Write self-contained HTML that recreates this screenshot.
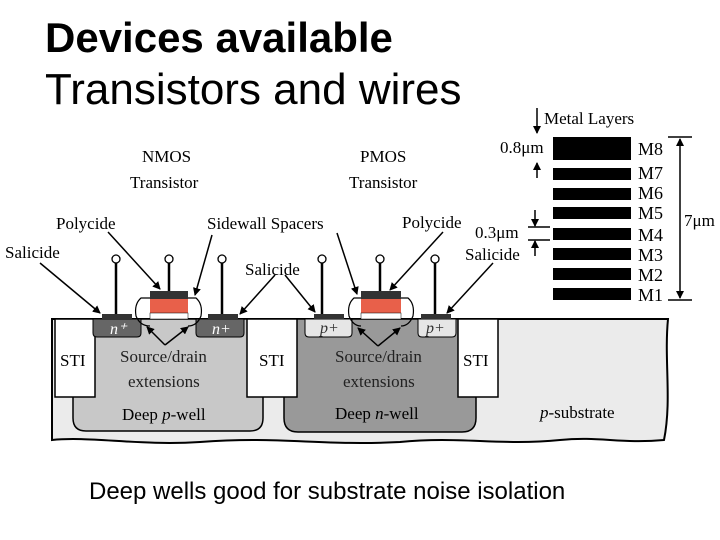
<!DOCTYPE html>
<html><head><style>
body{margin:0;width:720px;height:540px;background:#fff;overflow:hidden;position:relative;font-family:"Liberation Sans",sans-serif}
.t{position:absolute;left:45px;color:#000;line-height:1}
</style></head><body>
<div class="t" style="top:17px;font-size:42px;font-weight:bold">Devices available</div>
<div class="t" style="top:68px;font-size:44px">Transistors and wires</div>
<div style="position:absolute;left:89px;top:478px;font-size:24px">Deep wells good for substrate noise isolation</div>
<svg width="720" height="540" style="position:absolute;left:0;top:0" font-family="Liberation Serif,serif" font-size="17" fill="#000">
<defs><marker id="a" markerWidth="8" markerHeight="8" refX="7" refY="4" orient="auto" markerUnits="userSpaceOnUse"><path d="M0,0L8,4L0,8z" fill="#000"/></marker></defs>
<path d="M52,319 H668 C664,360 672,400 664,440 C620,444 600,436 560,440 C500,446 460,436 400,442 C320,446 280,436 200,442 C140,446 90,436 52,440 Z" fill="#ebebeb" stroke="#000" stroke-width="2"/>
<path d="M73,319 H263 V418 Q263,431 250,431 H86 Q73,431 73,418 Z" fill="#c8c8c8" stroke="#000" stroke-width="1.5"/>
<path d="M284,319 H476 V418 Q476,432 462,432 H298 Q284,432 284,418 Z" fill="#999" stroke="#000" stroke-width="1.5"/>
<rect x="55" y="319" width="40" height="78" fill="#fff" stroke="#000" stroke-width="1.5"/>
<rect x="247" y="319" width="50" height="78" fill="#fff" stroke="#000" stroke-width="1.5"/>
<rect x="458" y="319" width="40" height="78" fill="#fff" stroke="#000" stroke-width="1.5"/>
<path d="M93,319H141V333Q141,337 137,337H97Q93,337 93,333Z" fill="#666" stroke="#000"/>
<path d="M196,319H244V333Q244,337 240,337H200Q196,337 196,333Z" fill="#666" stroke="#000"/>
<path d="M305,319H352V333Q352,337 348,337H309Q305,337 305,333Z" fill="#e6e6e6" stroke="#000"/>
<path d="M418,319H456V333Q456,337 452,337H422Q418,337 418,333Z" fill="#e6e6e6" stroke="#000"/>
<g fill="#333"><rect x="102" y="314" width="30" height="5"/><rect x="208" y="314" width="30" height="5"/><rect x="314" y="314" width="30" height="5"/><rect x="421" y="314" width="30" height="5"/></g>
<g fill="none" stroke="#000" stroke-width="1.2">
<path d="M150,298 H141 Q134,304 136,316 Q140,326 150,326"/><path d="M188,298 H196 Q203,304 201,316 Q197,326 188,326"/>
<path d="M361,298 H354 Q347,304 349,316 Q353,326 361,326"/><path d="M401,298 H408 Q415,304 413,316 Q409,326 401,326"/>
</g>
<rect x="150" y="291" width="38" height="8" fill="#333"/><rect x="150" y="299" width="38" height="14" fill="#e8604a"/><rect x="150" y="313" width="38" height="6" fill="#fff" stroke="#000" stroke-width=".5"/>
<rect x="361" y="291" width="40" height="8" fill="#333"/><rect x="361" y="299" width="40" height="14" fill="#e8604a"/><rect x="361" y="313" width="40" height="6" fill="#fff" stroke="#000" stroke-width=".5"/>
<g stroke="#000" stroke-width="2.5"><line x1="116" y1="263" x2="116" y2="314"/><line x1="169" y1="263" x2="169" y2="291"/><line x1="222" y1="263" x2="222" y2="314"/><line x1="322" y1="263" x2="322" y2="314"/><line x1="380" y1="263" x2="380" y2="291"/><line x1="435" y1="263" x2="435" y2="314"/></g>
<g fill="#fff" stroke="#000" stroke-width="1.3"><circle cx="116" cy="259" r="4"/><circle cx="169" cy="259" r="4"/><circle cx="222" cy="259" r="4"/><circle cx="322" cy="259" r="4"/><circle cx="380" cy="259" r="4"/><circle cx="435" cy="259" r="4"/></g>
<g stroke="#000" stroke-width="1.5" marker-end="url(#a)">
<line x1="40" y1="263" x2="100" y2="313"/><line x1="108" y1="232" x2="160" y2="289"/><line x1="212" y1="235" x2="195" y2="295"/><line x1="337" y1="233" x2="357" y2="294"/>
<line x1="275" y1="275" x2="240" y2="314"/><line x1="285" y1="275" x2="315" y2="312"/><line x1="443" y1="232" x2="390" y2="290"/><line x1="493" y1="263" x2="447" y2="313"/>
<line x1="165" y1="345" x2="147" y2="327"/><line x1="165" y1="345" x2="188" y2="327"/><line x1="378" y1="346" x2="358" y2="328"/><line x1="378" y1="346" x2="400" y2="328"/>
</g>
<text x="142" y="162">NMOS</text><text x="130" y="188">Transistor</text>
<text x="360" y="162">PMOS</text><text x="349" y="188">Transistor</text>
<text x="56" y="229">Polycide</text><text x="207" y="229">Sidewall Spacers</text><text x="402" y="228">Polycide</text>
<text x="5" y="258">Salicide</text><text x="245" y="275">Salicide</text><text x="465" y="260">Salicide</text>
<g font-style="italic" font-size="16" fill="#fff"><text x="110" y="334">n⁺</text><text x="212" y="334">n+</text></g>
<g font-style="italic" font-size="16" fill="#333"><text x="320" y="333">p+</text><text x="426" y="333">p+</text></g>
<text x="60" y="366">STI</text><text x="259" y="366">STI</text><text x="463" y="366">STI</text>
<text x="120" y="362" fill="#222">Source/drain</text><text x="128" y="387" fill="#222">extensions</text><text x="122" y="420">Deep <tspan font-style="italic">p</tspan>-well</text>
<text x="335" y="362" fill="#222">Source/drain</text><text x="343" y="387" fill="#222">extensions</text><text x="335" y="419">Deep <tspan font-style="italic">n</tspan>-well</text>
<text x="540" y="418"><tspan font-style="italic">p</tspan>-substrate</text>
<text x="544" y="124">Metal Layers</text>
<g fill="#000"><rect x="553" y="137" width="78" height="23"/><rect x="553" y="168" width="78" height="12"/><rect x="553" y="188" width="78" height="12"/><rect x="553" y="207" width="78" height="12"/><rect x="553" y="228" width="78" height="12"/><rect x="553" y="248" width="78" height="12"/><rect x="553" y="268" width="78" height="12"/><rect x="553" y="288" width="78" height="12"/></g>
<g font-size="18"><text x="638" y="155">M8</text><text x="638" y="179">M7</text><text x="638" y="199">M6</text><text x="638" y="219">M5</text><text x="638" y="241">M4</text><text x="638" y="261">M3</text><text x="638" y="281">M2</text><text x="638" y="301">M1</text></g>
<text x="500" y="153">0.8μm</text><text x="475" y="238">0.3μm</text><text x="684" y="226">7μm</text>
<g stroke="#000" stroke-width="1.5"><line x1="537" y1="108" x2="537" y2="133" marker-end="url(#a)"/><line x1="537" y1="178" x2="537" y2="163" marker-end="url(#a)"/>
<line x1="535" y1="210" x2="535" y2="226" marker-end="url(#a)"/><line x1="535" y1="256" x2="535" y2="241" marker-end="url(#a)"/>
<line x1="528" y1="227" x2="550" y2="227"/><line x1="528" y1="240" x2="550" y2="240"/>
<line x1="668" y1="137" x2="692" y2="137"/><line x1="668" y1="300" x2="692" y2="300"/>
<line x1="680" y1="155" x2="680" y2="139" marker-end="url(#a)"/><line x1="680" y1="155" x2="680" y2="298" marker-end="url(#a)"/></g>
</svg>
</body></html>
